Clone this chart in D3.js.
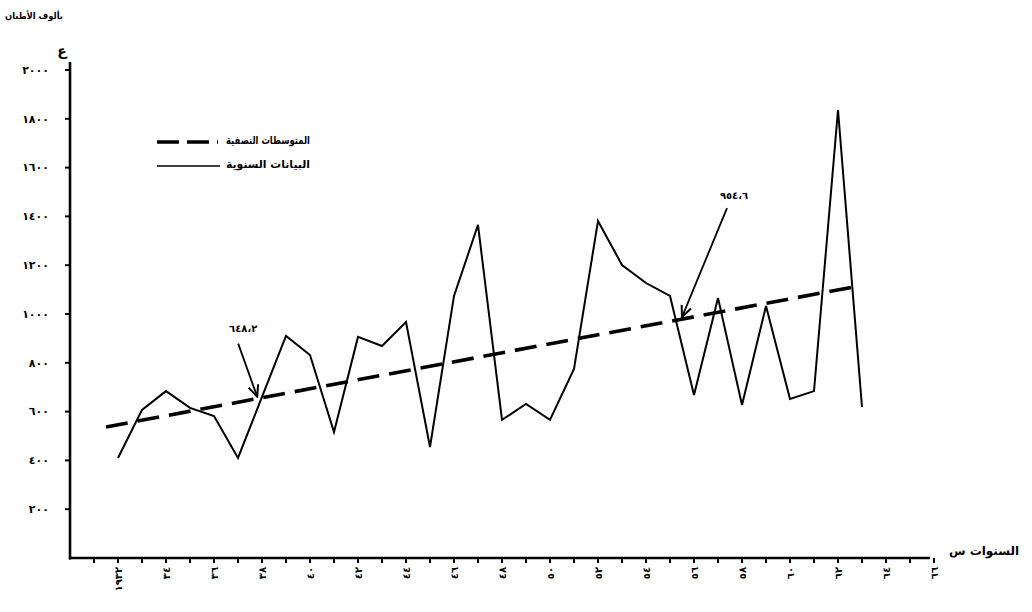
<!DOCTYPE html>
<html><head><meta charset="utf-8">
<script src="https://cdn.jsdelivr.net/npm/d3@7"></script>
<style>
html,body{margin:0;padding:0;background:#fff;}
svg{display:block;}
text{font-family:"DejaVu Sans",sans-serif;font-weight:bold;fill:#000;}
</style></head>
<body><svg id="c" width="1032" height="612"></svg>
<script>
// ---- data ----
const years = d3.range(1932, 1964);
const annualValues = [410,607,684,615,582,410,660,910,832,516,906,869,967,455,1074,1365,
                      566,631,566,775,1381,1201,1127,1074,668,1066,627,1033,652,684,1836,619];
const trendYears = [1931.5, 1962.6];
const trendValues = [537, 1110];
const yTicks = [200,400,600,800,1000,1200,1400,1600,1800,2000];
const yTickLabels = ["٢٠٠","٤٠٠","٦٠٠","٨٠٠","١٠٠٠","١٢٠٠","١٤٠٠","١٦٠٠","١٨٠٠","٢٠٠٠"];
const xTickYears = d3.range(1931, 1967);
const xLabelYears = d3.range(1932, 1967, 2);
const xLabels = ["١٩٣٢","٣٤","٣٦","٣٨","٤٠","٤٢","٤٤","٤٦","٤٨","٥٠","٥٢","٥٤","٥٦","٥٨","٦٠","٦٢","٦٤","٦٦"];
const legendLabels = ["المتوسطات النصفية","البيانات السنوية"];
const annotYears = [1937.8, 1955.5];
const annotLabels = ["٦٤٨،٢","٩٥٤،٦"];
const yUnitLabel = "بألوف الأطنان";
const yAxisSymbol = "ع";
const xAxisTitle = "السنوات س";

// ---- scales ----
const svg = d3.select("#c");
const x = d3.scaleLinear().domain([1932, 1963]).range([118, 862]);
const y = d3.scaleLinear().domain([0, 2000]).range([558, 70]);
const trendAt = d3.scaleLinear().domain(trendYears).range(trendValues);

// axes lines
svg.append("line").attr("x1",70).attr("x2",70).attr("y1",62).attr("y2",559.5)
  .attr("stroke","#000").attr("stroke-width",2.6);
svg.append("line").attr("x1",69).attr("x2",930).attr("y1",558).attr("y2",558)
  .attr("stroke","#000").attr("stroke-width",2.6);

// y ticks
svg.selectAll(".yt").data(yTicks).enter().append("line")
  .attr("x1",65).attr("x2",70).attr("y1",d=>y(d)).attr("y2",d=>y(d))
  .attr("stroke","#000").attr("stroke-width",2);
svg.selectAll(".yl").data(yTicks).enter().append("text")
  .attr("x",49).attr("y",d=>y(d)).attr("dy","0.35em")
  .attr("text-anchor","end").attr("font-size",11)
  .text((d,i)=>yTickLabels[i]);

// x ticks
svg.selectAll(".xt").data(xTickYears).enter().append("line")
  .attr("x1",d=>x(d)).attr("x2",d=>x(d)).attr("y1",558).attr("y2",563)
  .attr("stroke","#000").attr("stroke-width",2);
svg.selectAll(".xl").data(xLabelYears).enter().append("text")
  .attr("transform",d=>`translate(${x(d)},567) rotate(-90)`)
  .attr("dy","0.35em").attr("text-anchor","end").attr("font-size",10)
  .text((d,i)=>xLabels[i]);

// titles
svg.append("text").attr("x",34).attr("y",19).attr("text-anchor","middle")
  .attr("font-size",9).attr("textLength",58).attr("lengthAdjust","spacingAndGlyphs")
  .text(yUnitLabel);
svg.append("text").attr("x",62).attr("y",56).attr("text-anchor","middle")
  .attr("font-size",14).text(yAxisSymbol);
svg.append("text").attr("x",984).attr("y",555).attr("text-anchor","middle")
  .attr("font-size",12).text(xAxisTitle);

// annual line
svg.append("path").datum(years)
  .attr("d", d3.line().x(d=>x(d)).y((d,i)=>y(annualValues[i])))
  .attr("fill","none").attr("stroke","#000").attr("stroke-width",2)
  .attr("stroke-linejoin","miter");

// trend (semi-averages) dashed line
svg.append("path").datum(trendYears)
  .attr("d", d3.line().x(d=>x(d)).y((d,i)=>y(trendValues[i])))
  .attr("fill","none").attr("stroke","#000").attr("stroke-width",3.6)
  .attr("stroke-dasharray","22,10");

// annotations with arrows
const defs = svg.append("defs");
defs.append("marker").attr("id","ah").attr("viewBox","0 0 10 10")
  .attr("refX",9).attr("refY",5).attr("markerWidth",7).attr("markerHeight",7)
  .attr("orient","auto")
  .append("path").attr("d","M0,1 L9,5 L0,9").attr("fill","none")
  .attr("stroke","#000").attr("stroke-width",1.6);
const annotOffsets = [{lx:-14,ly:-67,sx:-19,sy:-55},{lx:52,ly:-120,sx:45,sy:-111}];
annotYears.forEach((yr,i)=>{
  const tx = x(yr), ty = y(trendAt(yr));
  const o = annotOffsets[i];
  svg.append("line").attr("x1",tx+o.sx).attr("y1",ty+o.sy).attr("x2",tx).attr("y2",ty-2)
    .attr("stroke","#000").attr("stroke-width",1.8).attr("marker-end","url(#ah)");
  svg.append("text").attr("x",tx+o.lx).attr("y",ty+o.ly).attr("text-anchor","middle")
    .attr("font-size",10).text(annotLabels[i]);
});

// legend
const legendY = [142, 166];
svg.append("line").attr("x1",157).attr("x2",218).attr("y1",legendY[0]).attr("y2",legendY[0])
  .attr("stroke","#000").attr("stroke-width",3.6).attr("stroke-dasharray","22,8");
svg.append("line").attr("x1",157).attr("x2",220).attr("y1",legendY[1]).attr("y2",legendY[1])
  .attr("stroke","#000").attr("stroke-width",1.6);
legendLabels.forEach((t,i)=>{
  svg.append("text").attr("x",268).attr("y",legendY[i]).attr("dy","0.2em")
    .attr("text-anchor","middle").attr("font-size",11)
    .attr("textLength",84).attr("lengthAdjust","spacingAndGlyphs").text(t);
});
</script></body></html>
